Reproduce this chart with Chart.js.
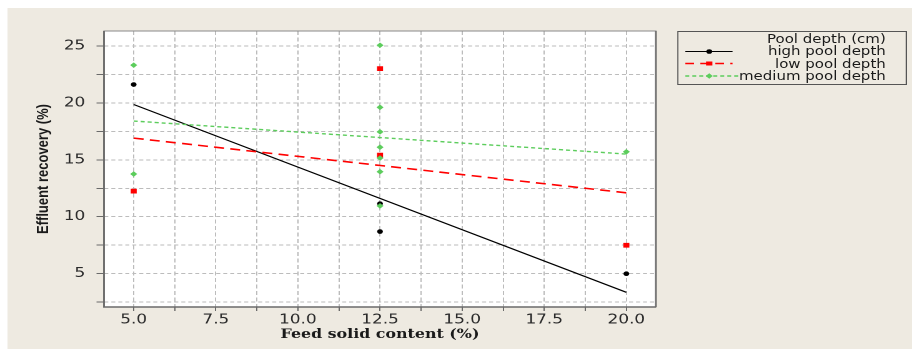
<!DOCTYPE html>
<html><head><meta charset="utf-8">
<script src="https://cdn.jsdelivr.net/npm/chart.js@4"></script>
<style>
html,body{margin:0;padding:0;background:#fff;width:912px;height:349px;overflow:hidden;}
#stage{position:absolute;left:0;top:0;width:730px;height:349px;transform:scaleX(1.24932);transform-origin:0 0;}
#panel{position:absolute;left:5.6px;top:8px;width:724.4px;height:341px;background:#EEEAE1;}
#wrap{position:absolute;left:0;top:0;width:730px;height:349px;}
#legend{position:absolute;left:542px;top:31px;width:182px;height:52px;border:1px solid #555;font-family:"DejaVu Sans",sans-serif;font-size:12px;color:#1a1a1a;}
.row{position:absolute;right:16px;height:12.5px;line-height:12.5px;white-space:nowrap;}
#legend svg{position:absolute;left:0;top:0;}
</style></head>
<body>
<div id="stage">
  <div id="panel"></div>
  <div id="wrap"><canvas id="c"></canvas></div>
  <div id="legend">
    <svg width="182" height="52">
      <line x1="5.5" y1="19.5" x2="43.4" y2="19.5" stroke="#000" stroke-width="1.2"/>
      <circle cx="24.7" cy="19.5" r="2.3" fill="#000"/>
      <line x1="5.5" y1="31.5" x2="43.4" y2="31.5" stroke="#ff0000" stroke-width="1.6" stroke-dasharray="7,5"/>
      <rect x="22.2" y="29.5" width="5" height="4" fill="#ff0000"/>
      <line x1="5.5" y1="44" x2="48" y2="44" stroke="#5ccd5c" stroke-width="1.4" stroke-dasharray="3.2,2.4"/>
      <polygon points="24.7,41.2 27.5,44 24.7,46.8 21.9,44" fill="#5ccd5c"/>
    </svg>
    <div class="row" style="top:0.5px">Pool depth (cm)</div>
    <div class="row" style="top:13px">high pool depth</div>
    <div class="row" style="top:25.5px">low pool depth</div>
    <div class="row" style="top:38px">medium pool depth</div>
  </div>
</div>
<script>
// ---- data ----
const highX = [5, 12.5, 12.5, 20];
const highY = [21.6, 11.15, 8.7, 5.0];
const lowX = [5, 12.5, 12.5, 20];
const lowY = [12.25, 23.0, 15.4, 7.5];
const mediumX = [5, 5, 12.5, 12.5, 12.5, 12.5, 12.5, 12.5, 12.5, 20];
const mediumY = [23.3, 13.75, 25.05, 19.6, 17.45, 16.1, 15.15, 13.95, 10.95, 15.7];
const fitX = [5, 20];
const highFit = [19.85, 3.37];
const lowFit = [16.9, 12.1];
const mediumFit = [18.4, 15.5];
const xTicks = [5, 6.25, 7.5, 8.75, 10, 11.25, 12.5, 13.75, 15, 16.25, 17.5, 18.75, 20];
const xTickLabels = ['5.0', '', '7.5', '', '10.0', '', '12.5', '', '15.0', '', '17.5', '', '20.0'];
const yTicks = [2.5, 5, 7.5, 10, 12.5, 15, 17.5, 20, 22.5, 25];
const yTickLabels = ['', '5', '', '10', '', '15', '', '20', '', '25'];

const pts = (xs, ys) => xs.map((x, i) => ({x: x, y: ys[i]}));

const plotBox = {
  id: 'plotBox',
  beforeDraw(chart) {
    const {ctx, chartArea: a} = chart;
    ctx.save();
    ctx.fillStyle = '#ffffff';
    ctx.fillRect(a.left, a.top, a.right - a.left, a.bottom - a.top);
    ctx.restore();
  },
  afterDraw(chart) {
    const {ctx, chartArea: a} = chart;
    ctx.save();
    ctx.strokeStyle = '#8a8a8a';
    ctx.lineWidth = 1;
    ctx.strokeRect(a.left, a.top, a.right - a.left, a.bottom - a.top);
    ctx.strokeStyle = '#6a6a6a';
    ctx.lineWidth = 1.4;
    ctx.beginPath();
    ctx.moveTo(a.left, a.top); ctx.lineTo(a.left, a.bottom); ctx.lineTo(a.right, a.bottom);
    ctx.moveTo(a.right, a.top); ctx.lineTo(a.right, a.bottom);
    ctx.stroke();
    ctx.restore();
  }
};

const gridCommon = {
  color: '#bcbcbc',
  lineWidth: 1,
  tickColor: '#6a6a6a',
  tickWidth: 1,
  tickBorderDash: []
};

new Chart(document.getElementById('c'), {
  type: 'scatter',
  data: {
    datasets: [
      {label: 'high pool depth', data: pts(highX, highY), showLine: false,
       pointStyle: 'circle', pointRadius: 2.3, backgroundColor: '#000', borderColor: '#000', borderWidth: 0, order: 5},
      {label: 'low pool depth', data: pts(lowX, lowY), showLine: false,
       pointStyle: 'rect', pointRadius: 3.4, backgroundColor: '#ff0000', borderColor: '#ff0000', borderWidth: 0, order: 4},
      {label: 'medium pool depth', data: pts(mediumX, mediumY), showLine: false,
       pointStyle: 'rectRot', pointRadius: 2.8, backgroundColor: '#5ccd5c', borderColor: '#5ccd5c', borderWidth: 0, order: 0},
      {label: 'high fit', data: pts(fitX, highFit), showLine: true, pointRadius: 0,
       borderColor: '#000', borderWidth: 1.2, order: 3},
      {label: 'low fit', data: pts(fitX, lowFit), showLine: true, pointRadius: 0,
       borderColor: '#ff0000', borderWidth: 1.6, borderDash: [8, 5], order: 2},
      {label: 'medium fit', data: pts(fitX, mediumFit), showLine: true, pointRadius: 0,
       borderColor: '#5ccd5c', borderWidth: 1.4, borderDash: [3.2, 2.4], order: 1}
    ]
  },
  options: {
    responsive: true,
    maintainAspectRatio: false,
    animation: false,
    devicePixelRatio: 2,
    layout: {padding: {left: 0, top: 31, right: 205, bottom: 0}},
    plugins: {legend: {display: false}, tooltip: {enabled: false}},
    scales: {
      x: {
        type: 'linear', min: 4.096, max: 20.9,
        afterFit: s => { s.height = 42; },
        afterBuildTicks: s => { s.ticks = xTicks.map(v => ({value: v})); },
        grid: Object.assign({}, gridCommon, {tickLength: 4}),
        border: {display: false, dash: [4, 2.5]},
        ticks: {
          autoSkip: false, maxRotation: 0, padding: 1,
          color: '#2a2a2a', font: {family: 'DejaVu Sans', size: 13.5},
          callback: (v, i) => xTickLabels[i]
        },
        title: {display: true, text: 'Feed solid content (%)', color: '#1a1a1a',
                font: {family: 'DejaVu Serif', size: 12.7, weight: 'bold'}, padding: {top: 0, bottom: 6.5}}
      },
      y: {
        type: 'linear', min: 2.08, max: 26.3,
        afterFit: s => { s.width = 83.25; },
        afterBuildTicks: s => { s.ticks = yTicks.map(v => ({value: v})); },
        grid: Object.assign({}, gridCommon, {tickLength: 6}),
        border: {display: false, dash: [3.2, 2.4]},
        ticks: {
          autoSkip: false, padding: 9,
          color: '#2a2a2a', font: {family: 'DejaVu Sans', size: 13.5},
          callback: (v, i) => yTickLabels[i]
        },
        title: {display: true, text: 'Effluent recovery (%)', color: '#1a1a1a',
                font: {family: 'Liberation Sans', size: 13, weight: 'bold'}, padding: {top: 27, bottom: 0}}
      }
    }
  },
  plugins: [plotBox]
});
</script>
</body></html>
